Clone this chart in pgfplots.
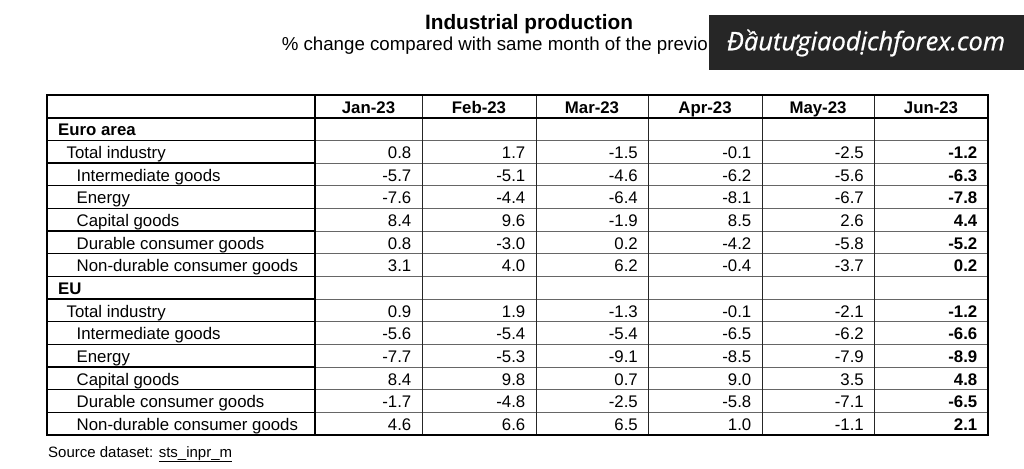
\documentclass[border=0pt]{standalone}
\usepackage{pgfplots}
\pgfplotsset{compat=1.18}
\usepackage{pgfplotstable}
\usepackage{fontspec}
\setmainfont{Liberation Sans}
\newfontfamily\wmfont[ItalicFeatures={FakeBold=0.8}]{Open Sans}
\newcommand\tfont{\fontsize{16.8}{20}\selectfont}

% values, row index r (0 = header row)
\pgfplotstableread[col sep=comma]{
r,jan,feb,mar,apr,may,jun
2,0.8,1.7,-1.5,-0.1,-2.5,-1.2
3,-5.7,-5.1,-4.6,-6.2,-5.6,-6.3
4,-7.6,-4.4,-6.4,-8.1,-6.7,-7.8
5,8.4,9.6,-1.9,8.5,2.6,4.4
6,0.8,-3.0,0.2,-4.2,-5.8,-5.2
7,3.1,4.0,6.2,-0.4,-3.7,0.2
9,0.9,1.9,-1.3,-0.1,-2.1,-1.2
10,-5.6,-5.4,-5.4,-6.5,-6.2,-6.6
11,-7.7,-5.3,-9.1,-8.5,-7.9,-8.9
12,8.4,9.8,0.7,9.0,3.5,4.8
13,-1.7,-4.8,-2.5,-5.8,-7.1,-6.5
14,4.6,6.6,6.5,1.0,-1.1,2.1
}\ipdata

\pgfplotstableread[col sep=comma]{
r,x,label
2,66.5,Total industry
3,76.5,Intermediate goods
4,76.5,Energy
5,76.5,Capital goods
6,76.5,Durable consumer goods
7,76.5,Non-durable consumer goods
9,66.5,Total industry
10,76.5,Intermediate goods
11,76.5,Energy
12,76.5,Capital goods
13,76.5,Durable consumer goods
14,76.5,Non-durable consumer goods
}\rowlabels

\pgfplotstableread[col sep=comma]{
r,x,label
1,58,Euro area
8,58,EU
}\grouplabels

\pgfplotstableread[col sep=comma]{
r,x,label
0,368.5,Jan-23
0,479,Feb-23
0,592,Mar-23
0,705,Apr-23
0,818,May-23
0,931,Jun-23
}\headers

\begin{document}
\begin{tikzpicture}
\begin{axis}[
  scale only axis, width=1024pt, height=468pt,
  xmin=0, xmax=1024, ymin=0, ymax=468, y dir=reverse,
  hide axis, clip=false,
  point meta=explicit symbolic,
  nodes near coords,
  every node near coord/.append style={inner sep=0pt, text=black},
]
\fill[white] (axis cs:0,0) rectangle (axis cs:1024,468);

% title
\node[anchor=base, inner sep=0pt, font=\bfseries\fontsize{20.8}{24}\selectfont] at (axis cs:529,30) {Industrial production};
\node[anchor=base, inner sep=0pt, font=\fontsize{18.7}{22}\selectfont] at (axis cs:525.5,51) {\% change compared with same month of the previous year};

% table lines
\pgfplotsinvokeforeach{2,...,14}{
  \draw[black!60, line width=1pt] (axis cs:315,{95+22.67*#1}) -- (axis cs:988,{95+22.67*#1});
}
\pgfplotsinvokeforeach{422,536,648,762,874}{
  \draw[black!85, line width=1pt] (axis cs:#1,95) -- (axis cs:#1,435);
}
\pgfplotsinvokeforeach{2,...,14}{
  \draw[black, line width=1.4pt] (axis cs:47,{95+22.67*#1}) -- (axis cs:315,{95+22.67*#1});
}
\draw[black, line width=2pt] (axis cs:47,117.67) -- (axis cs:988,117.67);
\draw[black, line width=1.6pt] (axis cs:315,95) -- (axis cs:315,435);
\draw[black, line width=2pt] (axis cs:47,95) rectangle (axis cs:988,435);

% headers
\addplot[draw=none, mark=none, every node near coord/.append style={anchor=base, font=\bfseries\tfont}]
  table[x=x, y expr={95+22.67*(\thisrow{r}+0.5)+6.8}, meta=label] {\headers};
% group labels
\addplot[draw=none, mark=none, every node near coord/.append style={anchor=base west, font=\bfseries\tfont}]
  table[x=x, y expr={95+22.67*(\thisrow{r}+0.5)+6.8}, meta=label] {\grouplabels};
% row labels
\addplot[draw=none, mark=none, every node near coord/.append style={anchor=base west, font=\tfont}]
  table[x=x, y expr={95+22.67*(\thisrow{r}+0.5)+6.8}, meta=label] {\rowlabels};

% values
\addplot[draw=none, mark=none, every node near coord/.append style={anchor=base east, font=\tfont}]
  table[x expr=411.5, y expr={95+22.67*(\thisrow{r}+0.5)+6.8}, meta=jan] {\ipdata};
\addplot[draw=none, mark=none, every node near coord/.append style={anchor=base east, font=\tfont}]
  table[x expr=525.5, y expr={95+22.67*(\thisrow{r}+0.5)+6.8}, meta=feb] {\ipdata};
\addplot[draw=none, mark=none, every node near coord/.append style={anchor=base east, font=\tfont}]
  table[x expr=638, y expr={95+22.67*(\thisrow{r}+0.5)+6.8}, meta=mar] {\ipdata};
\addplot[draw=none, mark=none, every node near coord/.append style={anchor=base east, font=\tfont}]
  table[x expr=751.5, y expr={95+22.67*(\thisrow{r}+0.5)+6.8}, meta=apr] {\ipdata};
\addplot[draw=none, mark=none, every node near coord/.append style={anchor=base east, font=\tfont}]
  table[x expr=864, y expr={95+22.67*(\thisrow{r}+0.5)+6.8}, meta=may] {\ipdata};
\addplot[draw=none, mark=none, every node near coord/.append style={anchor=base east, font=\bfseries\tfont}]
  table[x expr=977.5, y expr={95+22.67*(\thisrow{r}+0.5)+6.8}, meta=jun] {\ipdata};

% source
\node[anchor=base west, inner sep=0pt, font=\fontsize{15}{18}\selectfont] at (axis cs:48,457) {Source dataset: \underline{sts\_inpr\_m}};

% watermark
\fill[black!85] (axis cs:709,15) rectangle (axis cs:1024,70);
\node[anchor=center, inner sep=0pt, text=white, font=\wmfont\itshape\fontsize{25.5}{29}\selectfont] at (axis cs:866,43) {Đầutưgiaodịchforex.com};
\end{axis}
\end{tikzpicture}
\end{document}
